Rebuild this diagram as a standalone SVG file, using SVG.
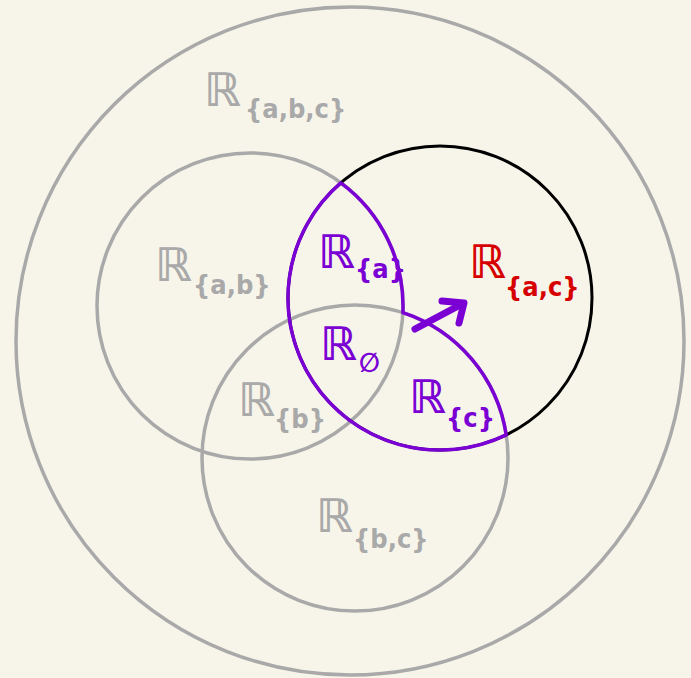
<svg xmlns="http://www.w3.org/2000/svg" width="691" height="678" viewBox="0 0 691 678">
<style>
.g{fill:none;stroke:#a9a9a9;stroke-width:3.5}
.k{fill:none;stroke:#000;stroke-width:3}
.p{fill:none;stroke:#7a00d4;stroke-width:3.5;stroke-linejoin:round}
.t{font-family:"DejaVu Sans",sans-serif;font-weight:bold}
.R{font-size:46px}
.s{font-size:27px;font-family:"DejaVu Sans Condensed","DejaVu Sans",sans-serif}
.gt{fill:#a9a9a9}
.pt{fill:#7a00d4}
.rt{fill:#d60000}
</style>
<rect width="691" height="678" fill="#f7f5ea"/>
<g id="connectors">
<circle id="outer" class="g" cx="350" cy="341" r="334"/>
<circle id="c-ab" class="g" cx="250" cy="306" r="153"/>
<circle id="c-bc" class="g" cx="355" cy="458" r="153"/>
<circle id="c-ac" class="k" cx="440" cy="298" r="152"/>
<path id="purple-region" class="p" d="M340.8,182.9 A153,153 0 0 1 402.9,312.7 A153,153 0 0 1 506.2,434.9 A152,152 0 0 1 340.8,182.9 Z"/>
<g id="arrow" stroke="#7a00d4" stroke-width="7" stroke-linecap="round" stroke-linejoin="round" fill="none">
<path d="M415,329 L462,304"/>
<path d="M442,301 L464,303 L459,323"/>
</g>
</g>
<g id="n-abc"><text class="t gt" x="204" y="106"><tspan class="R">ℝ</tspan><tspan class="s" x="245" y="118">{a,b,c}</tspan></text></g>
<g id="n-ab"><text class="t gt" x="155" y="281"><tspan class="R">ℝ</tspan><tspan class="s" x="193" y="294">{a,b}</tspan></text></g>
<g id="n-a"><text class="t pt" x="318" y="268"><tspan class="R">ℝ</tspan><tspan class="s" x="355" y="278">{a}</tspan></text></g>
<g id="n-empty"><text class="t pt" x="320" y="360"><tspan class="R">ℝ</tspan><tspan class="s" x="359" y="372" font-size="29">∅</tspan></text></g>
<g id="n-ac"><text class="t rt" x="469" y="278"><tspan class="R">ℝ</tspan><tspan class="s" x="505" y="296">{a,c}</tspan></text></g>
<g id="n-b"><text class="t gt" x="238" y="416"><tspan class="R">ℝ</tspan><tspan class="s" x="274" y="428">{b}</tspan></text></g>
<g id="n-c"><text class="t pt" x="409" y="413"><tspan class="R">ℝ</tspan><tspan class="s" x="446" y="427">{c}</tspan></text></g>
<g id="n-bc"><text class="t gt" x="316" y="532"><tspan class="R">ℝ</tspan><tspan class="s" x="353" y="548">{b,c}</tspan></text></g>
</svg>
